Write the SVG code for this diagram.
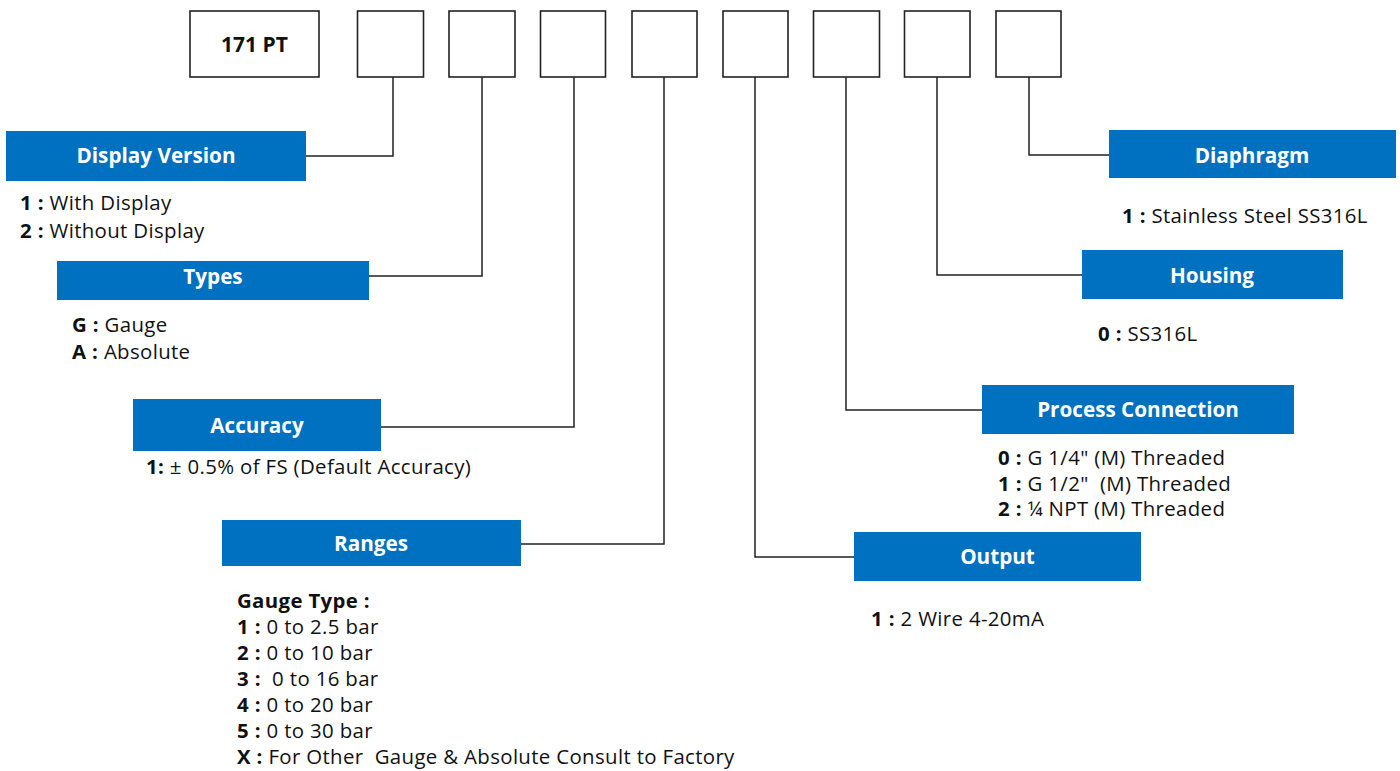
<svg xmlns="http://www.w3.org/2000/svg" width="1400" height="771" viewBox="0 0 1400 771">
<style>
.code{fill:#fff;stroke:#222;stroke-width:1.6}
.hdr{fill:#0070C0}
.ht{font-family:"Open Sans","Noto Sans",sans-serif;font-weight:bold;font-size:20.7px;fill:#fff;text-anchor:middle}
.bt{font-family:"Open Sans","Noto Sans",sans-serif;font-size:20.4px;letter-spacing:0.35px;fill:#111}
.b{font-weight:bold}
.con{fill:none;stroke:#222;stroke-width:1.5}
</style>
<rect width="1400" height="771" fill="#fff"/>
<g id="code-boxes">
<g id="box-171pt"><rect class="code" x="190" y="11" width="129" height="66"/><text class="ht" x="254.5" y="52" style="fill:#111;font-size:21px">171 PT</text></g>
<g id="box-1"><rect class="code" x="357.5" y="11" width="66" height="66"/></g>
<g id="box-2"><rect class="code" x="449" y="11" width="66" height="66"/></g>
<g id="box-3"><rect class="code" x="540.5" y="11" width="65" height="66"/></g>
<g id="box-4"><rect class="code" x="632" y="11" width="65" height="66"/></g>
<g id="box-5"><rect class="code" x="723" y="11" width="65" height="66"/></g>
<g id="box-6"><rect class="code" x="813.5" y="11" width="66" height="66"/></g>
<g id="box-7"><rect class="code" x="904.5" y="11" width="65.5" height="66"/></g>
<g id="box-8"><rect class="code" x="996" y="11" width="65" height="66"/></g>
</g>
<g id="connectors">
<polyline class="con" points="393,77 393,156 306,156"/>
<polyline class="con" points="482,77 482,276 369,276"/>
<polyline class="con" points="574,77 574,427 381,427"/>
<polyline class="con" points="664,77 664,544 521,544"/>
<polyline class="con" points="755,77 755,557 854,557"/>
<polyline class="con" points="846,77 846,410 982,410"/>
<polyline class="con" points="937,77 937,275 1082,275"/>
<polyline class="con" points="1029,77 1029,155 1109,155"/>
</g>
<g id="display-version">
<rect class="hdr" x="6" y="131" width="300" height="50"/>
<text class="ht" x="156" y="163">Display Version</text>
<text class="bt" x="20" y="210"><tspan class="b">1 :</tspan> With Display</text>
<text class="bt" x="20" y="238"><tspan class="b">2 :</tspan> Without Display</text>
</g>
<g id="types">
<rect class="hdr" x="57" y="261" width="312" height="39"/>
<text class="ht" x="213" y="284">Types</text>
<text class="bt" x="72" y="332"><tspan class="b">G :</tspan> Gauge</text>
<text class="bt" x="72" y="359"><tspan class="b">A :</tspan> Absolute</text>
</g>
<g id="accuracy">
<rect class="hdr" x="133" y="399" width="248" height="52"/>
<text class="ht" x="257" y="433">Accuracy</text>
<text class="bt" x="146" y="474"><tspan class="b">1:</tspan> ± 0.5% of FS (Default Accuracy)</text>
</g>
<g id="ranges">
<rect class="hdr" x="222" y="520" width="299" height="46"/>
<text class="ht" x="371" y="551">Ranges</text>
<text class="bt b" x="237" y="608">Gauge Type :</text>
<text class="bt" x="237" y="634"><tspan class="b">1 :</tspan> 0 to 2.5 bar</text>
<text class="bt" x="237" y="660"><tspan class="b">2 :</tspan> 0 to 10 bar</text>
<text class="bt" x="237" y="686" xml:space="preserve"><tspan class="b">3 :</tspan>  0 to 16 bar</text>
<text class="bt" x="237" y="712"><tspan class="b">4 :</tspan> 0 to 20 bar</text>
<text class="bt" x="237" y="738"><tspan class="b">5 :</tspan> 0 to 30 bar</text>
<text class="bt" x="237" y="764" xml:space="preserve"><tspan class="b">X :</tspan> For Other  Gauge &amp; Absolute Consult to Factory</text>
</g>
<g id="output">
<rect class="hdr" x="854" y="532" width="287" height="49"/>
<text class="ht" x="997.5" y="564">Output</text>
<text class="bt" x="871" y="626"><tspan class="b">1 :</tspan> 2 Wire 4-20mA</text>
</g>
<g id="process-connection">
<rect class="hdr" x="982" y="385" width="312" height="49"/>
<text class="ht" x="1138" y="417">Process Connection</text>
<text class="bt" x="998" y="465"><tspan class="b">0 :</tspan> G 1/4" (M) Threaded</text>
<text class="bt" x="998" y="490.5" xml:space="preserve"><tspan class="b">1 :</tspan> G 1/2"  (M) Threaded</text>
<text class="bt" x="998" y="516"><tspan class="b">2 :</tspan> ¼ NPT (M) Threaded</text>
</g>
<g id="housing">
<rect class="hdr" x="1082" y="250" width="261" height="49"/>
<text class="ht" x="1212" y="283">Housing</text>
<text class="bt" x="1098" y="341"><tspan class="b">0 :</tspan> SS316L</text>
</g>
<g id="diaphragm">
<rect class="hdr" x="1109" y="130" width="287" height="48"/>
<text class="ht" x="1252" y="163">Diaphragm</text>
<text class="bt" x="1122" y="223"><tspan class="b">1 :</tspan> Stainless Steel SS316L</text>
</g>
</svg>
